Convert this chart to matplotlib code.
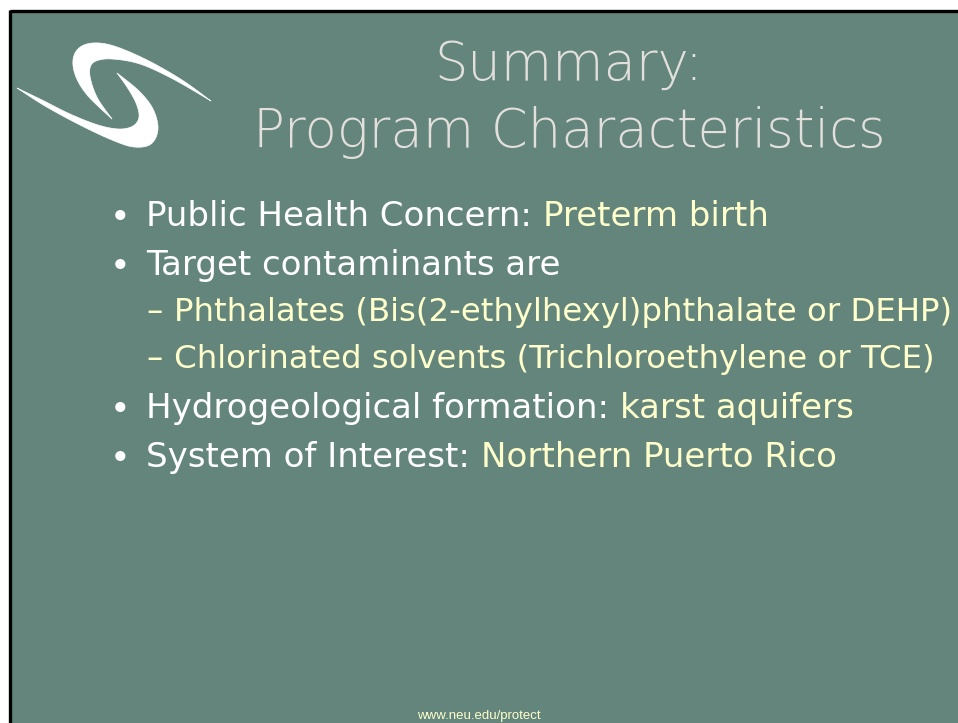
import numpy as np
import matplotlib.pyplot as plt
from matplotlib import font_manager
from matplotlib.patches import Polygon, Rectangle

# slide content
title_lines = ["Summary:", "Program Characteristics"]
bullet_labels = ["Public Health Concern: ", "Target contaminants are", "",
                 "", "Hydrogeological formation: ", "System of Interest: "]
bullet_values = ["Preterm birth", "", "Phthalates (Bis(2-ethylhexyl)phthalate or DEHP)",
                 "Chlorinated solvents (Trichloroethylene or TCE)", "karst aquifers",
                 "Northern Puerto Rico"]
bullet_levels = [1, 1, 2, 2, 1, 1]
footer = "www.neu.edu/protect"

BG = "#63857b"
WHITE = "#ffffff"
YELLOW = "#ffffcc"
TITLE = "#e2dfdc"

W, H = 958, 723
fig = plt.figure(figsize=(W / 100, H / 100), dpi=100)
fig.patch.set_facecolor("white")
ax = fig.add_axes([0, 0, 1, 1])
ax.set_xlim(0, W)
ax.set_ylim(H, 0)
ax.axis("off")

# slide background with black frame on left / top
ax.add_patch(Rectangle((11, 11), W, H, facecolor=BG, edgecolor="none"))
ax.plot([10.5, 10.5], [10, H + 5], color="black", lw=2.4, solid_capstyle="butt")
ax.plot([10, W + 5], [10.5, 10.5], color="black", lw=2.4, solid_capstyle="butt")


def smooth(pts, n=12):
    # Catmull-Rom through an open list of points
    p = np.asarray(pts, float)
    p = np.vstack([p[0], p, p[-1]])
    out = []
    for i in range(1, len(p) - 2):
        p0, p1, p2, p3 = p[i - 1], p[i], p[i + 1], p[i + 2]
        for t in np.linspace(0, 1, n, endpoint=False):
            t2, t3 = t * t, t * t * t
            out.append(0.5 * ((2 * p1) + (-p0 + p2) * t +
                              (2 * p0 - 5 * p1 + 4 * p2 - p3) * t2 +
                              (-p0 + 3 * p1 - 3 * p2 + p3) * t3))
    out.append(p[-2])
    return np.array(out)


# logo: two swooshes
upper_outer = [(211, 101), (182, 80), (147, 60), (114, 46), (93, 43), (79, 48),
               (73, 60), (76, 77), (88, 96), (112, 119)]
upper_inner = [(112, 119), (98, 99), (91, 81), (90, 68), (96, 61), (112, 59),
               (140, 64), (173, 79), (211, 101)]
lower_outer = [(17, 88), (45, 106), (80, 125), (112, 140), (134, 147), (151, 144),
               (158, 129), (153, 109), (139, 91), (117, 73)]
lower_inner = [(117, 73), (127, 87), (136, 103), (139, 117), (133, 126), (119, 129),
               (98, 125), (70, 114), (42, 100), (17, 88)]
for a, b in [(upper_outer, upper_inner), (lower_outer, lower_inner)]:
    pts = np.vstack([smooth(a), smooth(b)])
    ax.add_patch(Polygon(pts, closed=True, facecolor="white", edgecolor="white", lw=0.5))

# title
title_y = [80, 147]
for txt, y in zip(title_lines, title_y):
    ax.text(569, y, txt, ha="center", va="baseline", fontsize=38, color=TITLE,
            family="DejaVu Sans", fontweight="light")

# bullets
ys = [226, 275, 321, 368, 418, 467]
for lab, val, lvl, y in zip(bullet_labels, bullet_values, bullet_levels, ys):
    if lvl == 1:
        fs = 24.5
        ax.text(120, y - 8, "\u2022", ha="center", va="center", fontsize=25, color=WHITE)
        t = ax.text(146, y, lab, ha="left", va="baseline", fontsize=fs, color=WHITE)
        if val:
            ax.annotate(val, xycoords=t, xy=(1, 0), va="bottom", ha="left",
                        fontsize=fs, color=YELLOW)
    else:
        fs = 23.3
        ax.text(146, y, "\u2013", ha="left", va="baseline", fontsize=fs, color=YELLOW)
        ax.text(174, y, val, ha="left", va="baseline", fontsize=fs, color=YELLOW)

# footer, narrow face if there is one
names = {f.name for f in font_manager.fontManager.ttflist}
if "Liberation Sans Narrow" in names:
    ax.text(479, 719, footer, ha="center", va="baseline", fontsize=11, color=YELLOW,
            family="Liberation Sans Narrow")
else:
    ax.text(479, 719, footer, ha="center", va="baseline", fontsize=9.5, color=YELLOW,
            family="Liberation Sans")

fig.savefig("out.png", dpi=100, facecolor=fig.get_facecolor())
